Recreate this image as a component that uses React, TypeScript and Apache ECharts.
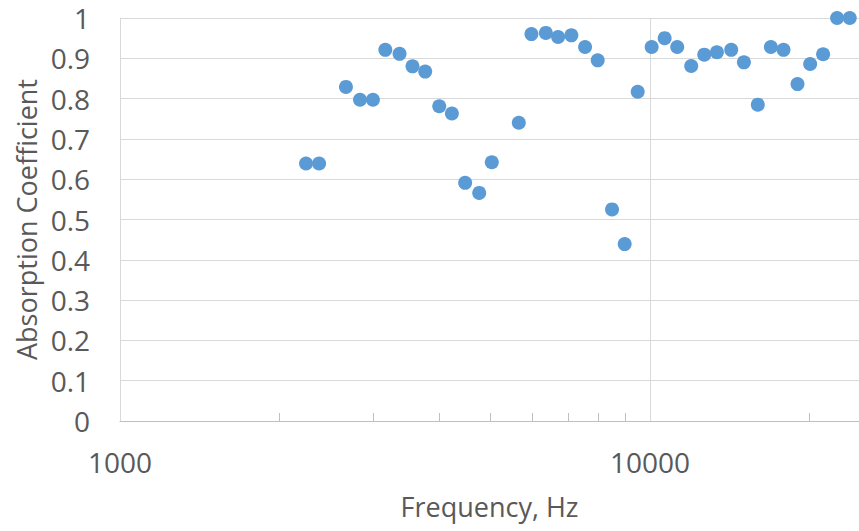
import React, { useEffect, useRef } from "react";
import * as echarts from "echarts";

const freqHz = [
  2244, 2375, 2669, 2837, 3001, 3167, 3369, 3564, 3766, 4003, 4229, 4480, 4762, 5030,
  5656, 5975, 6361, 6709, 7107, 7543, 7969, 8480, 8960, 9481, 10074, 10659, 11258,
  11963, 12659, 13376, 14234, 15041, 15978, 16910, 17865, 18984, 20057, 21218, 22548, 23823,
];

const absorption = [
  0.639, 0.639, 0.829, 0.797, 0.797, 0.921, 0.911, 0.88, 0.867, 0.781, 0.763, 0.591, 0.566,
  0.642, 0.74, 0.96, 0.963, 0.953, 0.957, 0.928, 0.895, 0.525, 0.439, 0.817, 0.928, 0.95,
  0.928, 0.881, 0.909, 0.915, 0.921, 0.89, 0.785, 0.928, 0.921, 0.836, 0.886, 0.91, 1.0, 1.0,
];

const minorTickValues = [2000, 3000, 4000, 5000, 6000, 7000, 8000, 9000, 20000];

const X_MIN = 1000;
const X_MAX = 24800;
const TEXT = "#595959";
const GRID = "#D9D9D9";
const FONT = "Open Sans";

export default function App() {
  const ref = useRef<HTMLDivElement>(null);

  useEffect(() => {
    document.body.style.margin = "0";
    if (!ref.current) return;
    const chart = echarts.init(ref.current, undefined, { renderer: "svg" });
    chart.setOption({
      animation: false,
      backgroundColor: "#ffffff",
      textStyle: { fontFamily: FONT },
      grid: { left: 120, right: 0, top: 18, bottom: 110 },
      xAxis: [
        {
          type: "log",
          logBase: 10,
          min: X_MIN,
          max: X_MAX,
          position: "bottom",
          axisLine: { show: true, lineStyle: { color: "#BFBFBF", width: 1 } },
          axisTick: { show: false },
          axisLabel: {
            fontSize: 28,
            color: TEXT,
            margin: 27,
            fontFamily: FONT,
            showMaxLabel: false,
            formatter: (v: number) => String(Math.round(v)),
          },
          splitLine: { show: true, showMaxLine: false, lineStyle: { color: GRID, width: 1 } },
          name: "Frequency, Hz",
          nameLocation: "middle",
          nameGap: 72,
          nameTextStyle: { fontSize: 27, color: TEXT, fontFamily: FONT },
        },
        {
          type: "log",
          logBase: 10,
          min: X_MIN,
          max: X_MAX,
          position: "bottom",
          axisLine: { show: false },
          axisTick: {
            show: true,
            inside: true,
            length: 8,
            customValues: minorTickValues,
            lineStyle: { color: "#BFBFBF", width: 1 },
          },
          axisLabel: { show: false },
          splitLine: { show: false },
        },
      ],
      yAxis: {
        type: "value",
        min: 0,
        max: 1,
        interval: 0.1,
        axisLine: { show: true, lineStyle: { color: GRID, width: 1 } },
        axisTick: { show: false },
        axisLabel: { fontSize: 28, color: TEXT, margin: 30, fontFamily: FONT },
        splitLine: { show: true, lineStyle: { color: GRID, width: 1 } },
        name: "Absorption Coefficient",
        nameLocation: "middle",
        nameRotate: 90,
        nameGap: 80,
        nameTextStyle: { fontSize: 27, color: TEXT, fontFamily: FONT },
      },
      series: [
        {
          type: "scatter",
          xAxisIndex: 0,
          yAxisIndex: 0,
          symbol: "circle",
          symbolSize: 14,
          itemStyle: { color: "#5B9BD5", opacity: 1 },
          clip: false,
          data: freqHz.map((f, i) => [f, absorption[i]]),
        },
      ],
    });
    return () => chart.dispose();
  }, []);

  return <div ref={ref} style={{ width: 859, height: 531 }} />;
}
